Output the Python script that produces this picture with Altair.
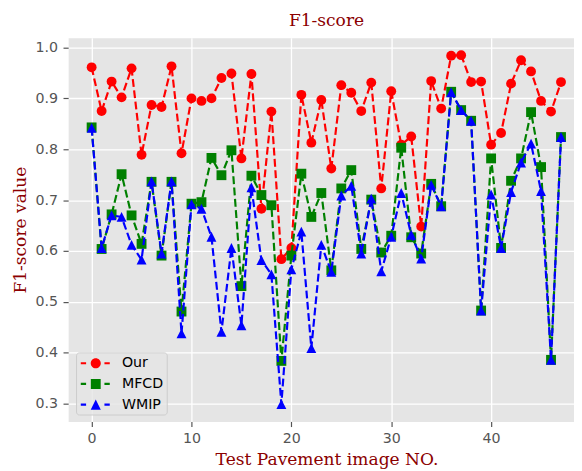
import altair as alt
import pandas as pd

# ---------------- data ----------------
idx = list(range(48))
series_names = ["Our", "MFCD", "WMIP"]
our = [0.961, 0.875, 0.933, 0.902, 0.959, 0.789, 0.887, 0.883, 0.963, 0.792,
       0.900, 0.895, 0.900, 0.940, 0.949, 0.782, 0.948, 0.683, 0.874, 0.584,
       0.606, 0.907, 0.813, 0.897, 0.762, 0.926, 0.911, 0.875, 0.931, 0.723,
       0.914, 0.809, 0.825, 0.648, 0.934, 0.880, 0.984, 0.985, 0.932, 0.933,
       0.809, 0.832, 0.929, 0.975, 0.953, 0.895, 0.874, 0.932]
mfcd = [0.843, 0.604, 0.672, 0.751, 0.670, 0.614, 0.736, 0.591, 0.736, 0.481,
        0.693, 0.696, 0.783, 0.749, 0.798, 0.531, 0.748, 0.710, 0.690, 0.384,
        0.591, 0.752, 0.667, 0.714, 0.562, 0.723, 0.759, 0.604, 0.701, 0.597,
        0.630, 0.803, 0.627, 0.595, 0.732, 0.688, 0.913, 0.877, 0.856, 0.483,
        0.782, 0.606, 0.738, 0.782, 0.873, 0.765, 0.386, 0.824]
wmip = [0.842, 0.606, 0.670, 0.667, 0.612, 0.583, 0.737, 0.595, 0.737, 0.438,
        0.692, 0.683, 0.628, 0.441, 0.606, 0.454, 0.725, 0.582, 0.554, 0.299,
        0.564, 0.638, 0.409, 0.612, 0.559, 0.709, 0.728, 0.595, 0.703, 0.560,
        0.628, 0.714, 0.632, 0.585, 0.730, 0.688, 0.912, 0.877, 0.856, 0.483,
        0.711, 0.606, 0.716, 0.774, 0.811, 0.718, 0.386, 0.824]
colors = ["#FF0000", "#008000", "#0000FF"]
x_ticks = [0, 10, 20, 30, 40]
y_ticks = [0.3, 0.4, 0.5, 0.6, 0.7, 0.8, 0.9, 1.0]

rows = []
for name, vals in zip(series_names, [our, mfcd, wmip]):
    for i, v in zip(idx, vals):
        rows.append({"idx": i, "value": v, "series": name})
df = pd.DataFrame(rows)

# ---------------- shapes ----------------
TRI = "M0,-1L-1,1L1,1Z"
marker_shapes = ["circle", "square", TRI]


def f(v):
    return f"{v:.3f}"


def dashes():
    h = 0.1375
    segs = [(-0.775, -0.1), (2.225, 2.9)]
    return "".join(f"M{f(a)},{f(-h)}H{f(b)}V{f(h)}H{f(a)}Z" for a, b in segs)


cx = 1.125


def circle_path(r=0.64):
    k = 0.5523 * r
    return (f"M{f(cx + r)},0C{f(cx + r)},{f(k)} {f(cx + k)},{f(r)} {f(cx)},{f(r)}"
            f"C{f(cx - k)},{f(r)} {f(cx - r)},{f(k)} {f(cx - r)},0"
            f"C{f(cx - r)},{f(-k)} {f(cx - k)},{f(-r)} {f(cx)},{f(-r)}"
            f"C{f(cx + k)},{f(-r)} {f(cx + r)},{f(-k)} {f(cx + r)},0Z")


def square_path(a=0.625):
    return f"M{f(cx - a)},{f(-a)}H{f(cx + a)}V{f(a)}H{f(cx - a)}Z"


def tri_path(a=0.64):
    return f"M{f(cx)},{f(-a)}L{f(cx - a)},{f(a)}L{f(cx + a)},{f(a)}Z"


legend_paths = [dashes() + circle_path(), dashes() + square_path(), dashes() + tri_path()]

# ---------------- encodings ----------------
x_enc = alt.X(
    "idx:Q",
    scale=alt.Scale(domain=[-2.35, 48.3], nice=False, zero=False),
    axis=alt.Axis(values=x_ticks, format="d", title="Test Pavement image NO.",
                  titleX=262, titleY=44, titleBaseline="alphabetic", titleAlign="center",
                  labelPadding=5.5),
)
y_enc = alt.Y(
    "value:Q",
    scale=alt.Scale(domain=[0.265, 1.019], nice=False, zero=False),
    axis=alt.Axis(values=y_ticks, format=".1f", title="F1-score value",
                  titleX=-43.5, titleY=194.5, titleBaseline="alphabetic", titleAlign="center",
                  titleAngle=270, labelPadding=5.5),
)

base = alt.Chart(df)
layers = []
for name, col, shp in zip(series_names, colors, marker_shapes):
    sub = base.transform_filter(alt.datum.series == name)
    layers.append(sub.mark_line(color=col, strokeDash=[8, 3.5], strokeWidth=2.2).encode(x=x_enc, y=y_enc))
    layers.append(sub.mark_point(color=col, shape=shp, filled=True, size=100, opacity=1).encode(x=x_enc, y=y_enc))

legend = alt.Legend(
    title=None, orient="bottom-left", offset=7.5, padding=3, rowPadding=6,
    symbolSize=256, labelOffset=27.5, labelFont="DejaVu Sans", labelFontSize=14.4,
    labelColor="#000000", fillColor="rgba(229,229,229,0.8)", strokeColor="#CCCCCC",
    cornerRadius=3, symbolStrokeWidth=0,
)
legend_layer = base.transform_filter("datum.idx < 0").mark_point(filled=True, opacity=1).encode(
    x=x_enc, y=y_enc,
    color=alt.Color("series:N", scale=alt.Scale(domain=series_names, range=colors), legend=legend),
    shape=alt.Shape("series:N", scale=alt.Scale(domain=series_names, range=legend_paths), legend=legend),
)
layers.append(legend_layer)

chart = (
    alt.layer(*layers)
    .properties(
        width=513, height=389,
        padding={"left": 61, "top": 27, "right": 0, "bottom": 47},
        autosize=alt.AutoSizeParams(type="none"),
        title=alt.TitleParams("F1-score", font="DejaVu Serif", fontSize=17.3, color="#8B0000",
                              fontWeight="normal", anchor="middle", frame="group", dx=5.5, offset=8.5),
    )
    .configure_view(fill="#E5E5E5", stroke="transparent")
    .configure_axis(
        labelFont="DejaVu Sans", labelFontSize=14.4, labelColor="#555555",
        tickColor="#555555", tickSize=5.2, tickWidth=1.2, domain=False,
        gridColor="#FFFFFF", gridWidth=1.3, grid=True,
        titleFont="DejaVu Serif", titleFontSize=17.3, titleColor="#8B0000", titleFontWeight="normal",
    )
)

chart.save("out.html", embed_options={"renderer": "svg", "actions": False})
